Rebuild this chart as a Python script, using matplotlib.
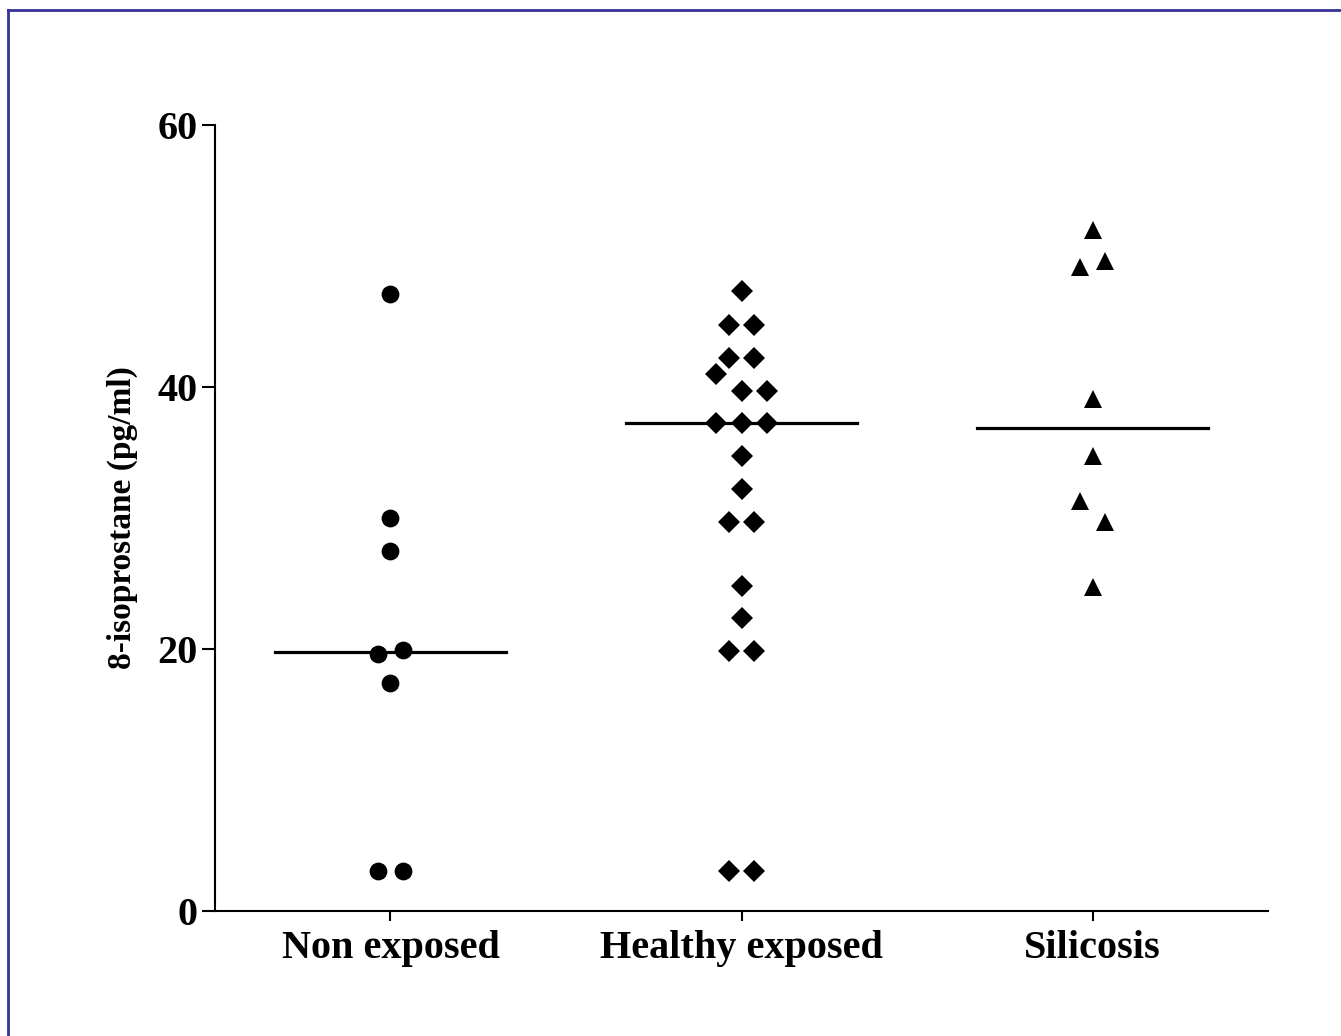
import matplotlib
matplotlib.use("Agg")
import matplotlib.pyplot as plt
import numpy as np
from matplotlib.lines import Line2D

# groups on the x axis
categories = ["Non exposed", "Healthy exposed", "Silicosis"]

# 8-isoprostane values (pg/ml)
non_exposed = [47.1, 30.0, 27.5, 19.65, 19.9, 17.4, 3.05, 3.05]
healthy_exposed = [47.3, 44.7, 44.7, 42.2, 42.2, 41.0, 39.7, 39.7,
                   37.25, 37.25, 37.25, 34.7, 32.2, 29.7, 29.7,
                   24.8, 22.35, 19.87, 19.87, 3.05, 3.05]
silicosis = [52.0, 49.2, 49.6, 39.05, 34.7, 31.3, 29.7, 24.7]

# column-scatter slot of each point (multiples of one marker width)
non_exposed_slot = [0, 0, 0, -0.5, 0.5, 0, -0.5, 0.5]
healthy_exposed_slot = [0, -0.5, 0.5, -0.5, 0.5, -1, 0, 1,
                        -1, 0, 1, 0, 0, -0.5, 0.5,
                        0, 0, -0.5, 0.5, -0.5, 0.5]
silicosis_slot = [0, -0.5, 0.5, 0, 0, -0.5, 0.5, 0]

y_ticks = [0, 20, 40, 60]

FONT = "Liberation Serif"
SLOT_WIDTH = 0.0725
MEDIAN_HALF = 0.33

fig = plt.figure(figsize=(13.41, 10.36), dpi=100)
ax = fig.add_axes([0.1603, 0.1207, 0.7853, 0.7586])

groups = [
    (non_exposed, non_exposed_slot, "o", 12.8),
    (healthy_exposed, healthy_exposed_slot, "D", 11.0),
    (silicosis, silicosis_slot, "^", 13.2),
]

for idx, (values, slots, marker, size) in enumerate(groups):
    xs = idx + np.asarray(slots) * SLOT_WIDTH
    ax.plot(xs, values, linestyle="none", marker=marker, markersize=size,
            color="black", markeredgewidth=0, clip_on=False, zorder=3)
    med = np.median(values)
    ax.plot([idx - MEDIAN_HALF, idx + MEDIAN_HALF], [med, med],
            color="black", linewidth=2.3, zorder=2)

ax.set_xlim(-0.5, 2.5)
ax.set_ylim(0, 60)
ax.set_xticks(range(len(categories)))
ax.set_xticklabels(categories)
ax.set_yticks(y_ticks)
ax.set_yticklabels([str(t) for t in y_ticks])

for side in ["top", "right"]:
    ax.spines[side].set_visible(False)
for side in ["left", "bottom"]:
    ax.spines[side].set_linewidth(1.5)

ax.tick_params(axis="y", length=9.5, width=1.5, pad=3)
ax.tick_params(axis="x", length=7, width=1.5, pad=7)
for label in ax.get_xticklabels() + ax.get_yticklabels():
    label.set_fontfamily(FONT)
    label.set_fontweight("bold")
    label.set_fontsize(29)

ax.set_ylabel("8-isoprostane (pg/ml)", fontfamily=FONT, fontweight="bold",
              fontsize=24, labelpad=14)

# dark blue frame on the top and left edges of the figure
frame_color = "#333399"
fig.add_artist(Line2D([8 / 1341, 1], [1 - 10 / 1036, 1 - 10 / 1036],
                      transform=fig.transFigure, color=frame_color, linewidth=2))
fig.add_artist(Line2D([8 / 1341, 8 / 1341], [0, 1 - 10 / 1036],
                      transform=fig.transFigure, color=frame_color, linewidth=2))

fig.savefig("out.png", dpi=100)
plt.close(fig)
